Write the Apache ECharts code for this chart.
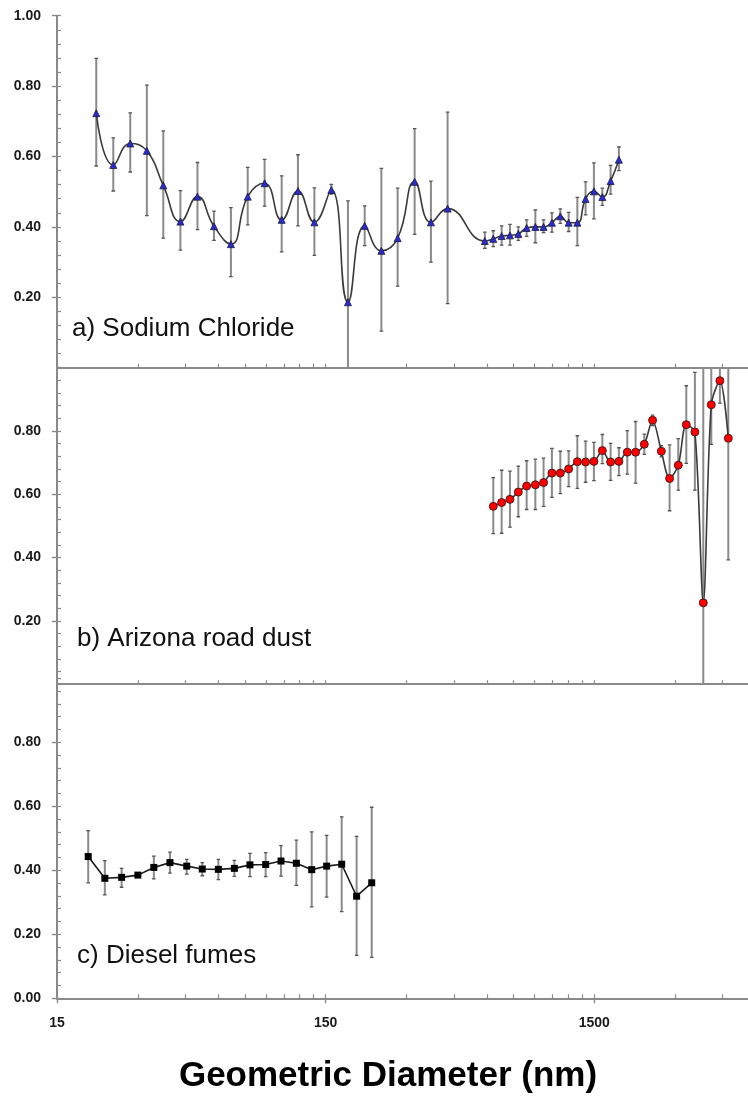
<!DOCTYPE html>
<html>
<head>
<meta charset="utf-8">
<script src="https://cdn.jsdelivr.net/npm/echarts@6/dist/echarts.min.js"></script>
<style>
html,body{margin:0;padding:0;background:#fff;}
#c{width:748px;height:1101px;}
</style>
</head>
<body>
<div id="c"></div>
<script>
// ---- Data ----
// a) Sodium Chloride
const naclD  = [21.0, 24.3, 28.1, 32.4, 37.3, 43.2, 50.0, 57.6, 66.6, 76.9, 88.9, 102.9, 118.3, 136.2, 157.5, 181.6, 209.6, 241.8, 278, 321.6, 369.8, 426.6, 587, 631, 678, 728, 782, 840, 905, 971, 1043, 1121, 1204, 1297, 1392, 1495, 1607, 1725, 1852];
const naclV  = [0.723, 0.576, 0.637, 0.616, 0.518, 0.415, 0.486, 0.402, 0.351, 0.486, 0.524, 0.420, 0.502, 0.413, 0.505, 0.186, 0.403, 0.332, 0.368, 0.528, 0.413, 0.452, 0.360, 0.366, 0.374, 0.376, 0.380, 0.397, 0.400, 0.400, 0.412, 0.430, 0.412, 0.412, 0.479, 0.501, 0.485, 0.530, 0.591];
const naclHi = [0.879, 0.653, 0.724, 0.803, 0.673, 0.503, 0.583, 0.445, 0.455, 0.569, 0.592, 0.545, 0.605, 0.511, 0.521, 0.474, 0.460, 0.566, 0.510, 0.679, 0.530, 0.726, 0.385, 0.389, 0.403, 0.407, 0.400, 0.420, 0.448, 0.420, 0.440, 0.451, 0.441, 0.484, 0.528, 0.582, 0.510, 0.575, 0.627];
const naclLo = [0.573, 0.502, 0.556, 0.432, 0.368, 0.334, 0.392, 0.362, 0.259, 0.406, 0.459, 0.329, 0.403, 0.319, 0.493, -0.102, 0.347, 0.104, 0.232, 0.379, 0.300, 0.182, 0.339, 0.344, 0.348, 0.348, 0.362, 0.373, 0.355, 0.384, 0.385, 0.410, 0.387, 0.347, 0.434, 0.423, 0.461, 0.493, 0.560];

// b) Arizona road dust
const ardD  = [631, 678, 728, 782, 840, 905, 971, 1043, 1121, 1204, 1297, 1392, 1495, 1607, 1725, 1852, 1990, 2137, 2302, 2472, 2664, 2860, 3081, 3300, 3552, 3817, 4088, 4401, 4730];
const ardV  = [0.562, 0.574, 0.584, 0.607, 0.626, 0.630, 0.637, 0.667, 0.667, 0.680, 0.703, 0.702, 0.704, 0.738, 0.702, 0.704, 0.733, 0.733, 0.758, 0.834, 0.736, 0.650, 0.692, 0.820, 0.797, 0.257, 0.883, 0.959, 0.777];
const ardHi = [0.653, 0.676, 0.673, 0.689, 0.706, 0.711, 0.714, 0.745, 0.736, 0.737, 0.785, 0.768, 0.764, 0.789, 0.761, 0.747, 0.801, 0.830, 0.790, 0.850, 0.754, 0.756, 0.776, 0.943, 0.985, 1.050, 1.008, 1.030, 1.160];
const ardLo = [0.476, 0.477, 0.496, 0.529, 0.552, 0.552, 0.562, 0.590, 0.602, 0.624, 0.619, 0.638, 0.643, 0.697, 0.644, 0.659, 0.664, 0.635, 0.726, 0.817, 0.718, 0.548, 0.613, 0.698, 0.613, -0.500, 0.758, 0.888, 0.393];

// c) Diesel fumes
const dslD  = [19.6, 22.6, 26.1, 30.0, 34.4, 39.5, 45.6, 52.1, 59.8, 68.6, 78.4, 89.7, 102.3, 116.7, 133.1, 151.3, 172.1, 195.6, 222.6];
const dslV  = [0.443, 0.375, 0.378, 0.385, 0.409, 0.424, 0.413, 0.404, 0.403, 0.406, 0.417, 0.418, 0.429, 0.422, 0.402, 0.413, 0.419, 0.319, 0.361];
const dslHi = [0.524, 0.430, 0.406, 0.392, 0.444, 0.457, 0.434, 0.424, 0.434, 0.431, 0.453, 0.455, 0.477, 0.494, 0.520, 0.509, 0.567, 0.506, 0.597];
const dslLo = [0.361, 0.323, 0.347, 0.378, 0.373, 0.391, 0.388, 0.383, 0.371, 0.381, 0.380, 0.380, 0.382, 0.353, 0.286, 0.316, 0.271, 0.134, 0.128];

// Axis ticks / labels
const xMajorTicks = [15, 150, 1500];
const xMinorTicks = [15, 30, 45, 60, 75, 90, 105, 120, 135, 150, 300, 450, 600, 750, 900, 1050, 1200, 1350, 1500, 3000, 4500];
const yLabelsA = [0.2, 0.4, 0.6, 0.8, 1.0];
const yLabelsB = [0.2, 0.4, 0.6, 0.8];
const yLabelsC = [0, 0.2, 0.4, 0.6, 0.8];
const panelTitles = ['a) Sodium Chloride', 'b) Arizona road dust', 'c) Diesel fumes'];
const xTitle = 'Geometric Diameter (nm)';

// ---- Chart ----
const AX = '#8a8a8a';
const FONT = '"Liberation Sans", Arial, sans-serif';
const X_MIN = 15, X_MAX = 5600;

function zipPts(d, v) { return d.map((x, i) => [x, v[i]]); }
function zipErr(d, lo, hi) { return d.map((x, i) => [x, lo[i], hi[i]]); }

function errRender(params, api) {
  const x = api.value(0), lo = api.value(1), hi = api.value(2);
  const p1 = api.coord([x, hi]), p2 = api.coord([x, lo]);
  const w = 1.8;
  const st = { stroke: '#8a8a8a', lineWidth: 2 };
  const cs = { stroke: '#555', lineWidth: 1.3 };
  return {
    type: 'group',
    children: [
      { type: 'line', shape: { x1: p1[0], y1: p1[1], x2: p2[0], y2: p2[1] }, style: st },
      { type: 'line', shape: { x1: p1[0] - w, y1: p1[1], x2: p1[0] + w, y2: p1[1] }, style: cs },
      { type: 'line', shape: { x1: p2[0] - w, y1: p2[1], x2: p2[0] + w, y2: p2[1] }, style: cs }
    ]
  };
}

const grids = [
  { left: 57, right: 0, top: 15.7, height: 352 },
  { left: 57, right: 0, top: 367.7, height: 316.5 },
  { left: 57, right: 0, top: 678.3, height: 320 }
];

function xInner(gi) {
  return {
    type: 'log', gridIndex: gi, min: X_MIN, max: X_MAX, position: 'bottom',
    axisLine: { show: true, lineStyle: { color: AX, width: 2 } },
    axisTick: { show: true, inside: true, length: 4, customValues: xMinorTicks, lineStyle: { color: AX, width: 1.2 } },
    axisLabel: { show: false },
    splitLine: { show: false }, minorTick: { show: false }
  };
}

const xAxes = [
  xInner(0),
  { type: 'log', gridIndex: 0, min: X_MIN, max: X_MAX, position: 'top',
    axisLine: { show: true, lineStyle: { color: AX, width: 2 } },
    axisTick: { show: false }, axisLabel: { show: false }, splitLine: { show: false } },
  xInner(1),
  xInner(2),
  { type: 'log', gridIndex: 2, min: X_MIN, max: X_MAX, position: 'bottom',
    axisLine: { show: false },
    axisTick: { show: true, inside: false, length: 5, customValues: xMajorTicks, lineStyle: { color: AX, width: 1.4 } },
    axisLabel: { show: true, customValues: xMajorTicks, margin: 18, color: '#1a1a1a', fontFamily: FONT, fontWeight: 'bold', fontSize: 14,
      formatter: v => String(Math.round(v)) },
    splitLine: { show: false } }
];

function yOuter(gi, labels) {
  return {
    type: 'value', gridIndex: gi, min: 0, max: 1, position: 'left',
    axisLine: { show: true, lineStyle: { color: AX, width: 2 } },
    axisTick: { show: true, inside: false, length: 5, customValues: labels, lineStyle: { color: AX, width: 1.4 } },
    axisLabel: { show: true, customValues: labels, margin: 16, color: '#1a1a1a', fontFamily: FONT, fontWeight: 'bold', fontSize: 14,
      formatter: v => Number(v).toFixed(2) },
    splitLine: { show: false }
  };
}
function yInner(gi) {
  return {
    type: 'value', gridIndex: gi, min: 0, max: 1, interval: 0.04, position: 'left',
    axisLine: { show: false },
    axisTick: { show: true, inside: true, length: 4, lineStyle: { color: AX, width: 1.2 } },
    axisLabel: { show: false }, splitLine: { show: false }
  };
}
const yAxes = [yOuter(0, yLabelsA), yInner(0), yOuter(1, yLabelsB), yInner(1), yOuter(2, yLabelsC), yInner(2)];

const series = [
  { type: 'custom', xAxisIndex: 0, yAxisIndex: 0, clip: true, z: 1, renderItem: errRender,
    encode: { x: 0, y: [1, 2] }, data: zipErr(naclD, naclLo, naclHi) },
  { type: 'line', xAxisIndex: 0, yAxisIndex: 0, z: 3, smooth: 0.5, clip: true,
    data: zipPts(naclD, naclV), symbol: 'triangle', symbolSize: 7,
    lineStyle: { color: '#3a3a3a', width: 1.6 },
    itemStyle: { color: '#2b2bd6', borderColor: '#1a1a3a', borderWidth: 0.8 } },
  { type: 'custom', xAxisIndex: 2, yAxisIndex: 2, clip: true, z: 1, renderItem: errRender,
    encode: { x: 0, y: [1, 2] }, data: zipErr(ardD, ardLo, ardHi) },
  { type: 'line', xAxisIndex: 2, yAxisIndex: 2, z: 3, smooth: 0.3, clip: true,
    data: zipPts(ardD, ardV), symbol: 'circle', symbolSize: 8,
    lineStyle: { color: '#3a3a3a', width: 1.6 },
    itemStyle: { color: '#ff0000', borderColor: '#3a1a1a', borderWidth: 0.9 } },
  { type: 'custom', xAxisIndex: 3, yAxisIndex: 4, clip: true, z: 1, renderItem: errRender,
    encode: { x: 0, y: [1, 2] }, data: zipErr(dslD, dslLo, dslHi) },
  { type: 'line', xAxisIndex: 3, yAxisIndex: 4, z: 3, smooth: false, clip: true,
    data: zipPts(dslD, dslV), symbol: 'rect', symbolSize: 7,
    lineStyle: { color: '#1a1a1a', width: 1.6 },
    itemStyle: { color: '#000000' } }
];

const graphic = [
  { type: 'text', left: 72, top: 316, style: { text: panelTitles[0], font: '26px ' + FONT, fill: '#111' }, z: 10 },
  { type: 'text', left: 77, top: 626, style: { text: panelTitles[1], font: '26px ' + FONT, fill: '#111' }, z: 10 },
  { type: 'text', left: 77, top: 943, style: { text: panelTitles[2], font: '26px ' + FONT, fill: '#111' }, z: 10 },
  { type: 'text', x: 388, y: 1076, style: { text: xTitle, font: 'bold 35px ' + FONT, fill: '#000', align: 'center', verticalAlign: 'middle' }, z: 10 }
];

const chart = echarts.init(document.getElementById('c'), null, { renderer: 'canvas' });
chart.setOption({
  animation: false,
  backgroundColor: '#fff',
  grid: grids,
  xAxis: xAxes,
  yAxis: yAxes,
  series: series,
  graphic: graphic
});
</script>
</body>
</html>
